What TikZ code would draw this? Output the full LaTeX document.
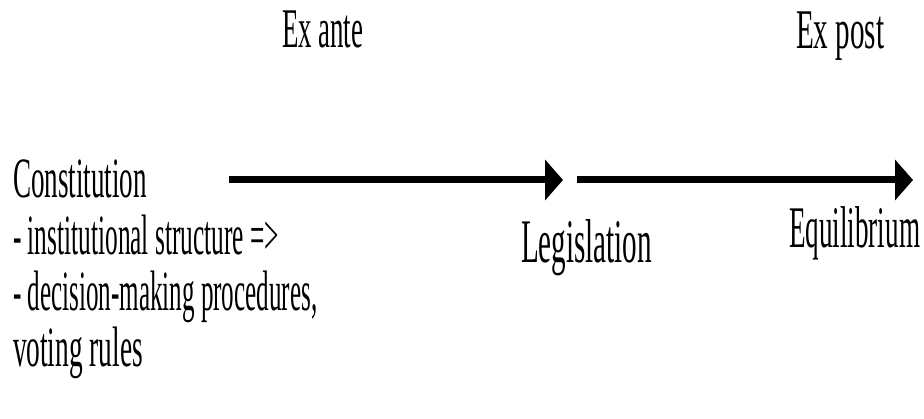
\documentclass[tikz,border=0pt]{standalone}
\usepackage{fontspec}
\setmainfont{Liberation Serif}
\usetikzlibrary{arrows.meta}
\newcommand{\sqz}[3]{\scalebox{#1}[1]{\fontsize{#2}{#2}\selectfont #3}}
\begin{document}
\begin{tikzpicture}[x=1pt,y=-1pt,
  lbl/.style={anchor=base west,inner sep=0pt,outer sep=0pt},
  tl/.style={line width=7pt,-{Triangle[length=18pt,width=40pt]}}]
\useasboundingbox (0,0) rectangle (924,419);
\node[lbl] (exante) at (282,48) {\sqz{0.48}{56}{Ex ante}};
\node[lbl] (expost) at (796,49) {\sqz{0.52}{56}{Ex post}};
\node[lbl] (c1) at (13,198) {\sqz{0.475}{57}{Constitution}};
\node[lbl] (c2) at (13,255) {\sqz{0.445}{57}{- institutional structure =>}};
\node[lbl] (c3) at (13,311) {\sqz{0.44}{57}{- decision-making procedures,}};
\node[lbl] (c4) at (13,367) {\sqz{0.48}{57}{voting rules}};
\node[lbl] (leg) at (521,263) {\sqz{0.47}{62}{Legislation}};
\node[lbl] (equ) at (789,248) {\sqz{0.46}{59}{Equilibrium}};
\coordinate (a1s) at (229,180);
\coordinate (a1e) at (563,180);
\coordinate (a2s) at (577,180);
\coordinate (a2e) at (913,180);
\draw[tl] (a1s) -- (a1e);
\draw[tl] (a2s) -- (a2e);
\end{tikzpicture}
\end{document}
